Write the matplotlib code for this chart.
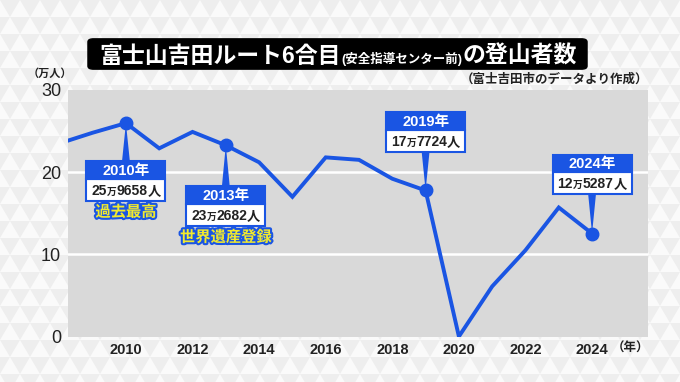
import matplotlib
matplotlib.use('Agg')
import matplotlib.pyplot as plt
from matplotlib.patches import Rectangle, Polygon, FancyBboxPatch
from matplotlib.collections import PolyCollection
import matplotlib.patheffects as pe

plt.rcParams['font.family'] = ['Liberation Sans', 'Noto Sans CJK JP', 'DejaVu Sans']

# ---- data (万人) ----
years = list(range(2008, 2025))
climbers = [23.5, 24.8, 25.97, 22.9, 24.9, 23.27, 21.2, 17.0, 21.8, 21.5,
            19.2, 17.77, 0.0, 6.1, 10.5, 15.7, 12.53]

callout_years = [2010, 2013, 2019, 2024]
callout_heads = ['2010年', '2013年', '2019年', '2024年']
callout_man = ['25', '23', '17', '12']
callout_rest = ['9658', '2682', '7724', '5287']
callout_notes = ['過去最高', '世界遺産登録', '', '']

yticks = [0, 10, 20, 30]
xticks = [2010, 2012, 2014, 2016, 2018, 2020, 2022, 2024]

title_big1 = '富士山吉田ルート6合目'
title_small = '(安全指導センター前)'
title_big2 = 'の登山者数'
source_text = '（富士吉田市のデータより作成）'
yunit = '（万人）'
xunit = '（年）'

# ---- layout ----
BLUE = '#1a55e3'
W, H = 680, 382
fig = plt.figure(figsize=(W / 100, H / 100), dpi=100)
fig.patch.set_facecolor('#eeeeee')


def fx(x):
    return x / W


def fy(y):
    return 1 - y / H


# triangle background pattern
tw, th = 20, 17
polys = []
row = 0
yy = -th
while yy < H + th:
    off = (row % 2) * tw / 2
    xx = -tw + off
    while xx < W + tw:
        polys.append([(fx(xx), fy(yy + th)), (fx(xx + tw), fy(yy + th)),
                      (fx(xx + tw / 2), fy(yy))])
        xx += tw
    yy += th
    row += 1
pc = PolyCollection(polys, facecolors='#fafafa', edgecolors='none',
                    transform=fig.transFigure, zorder=-5)
fig.add_artist(pc)

top_px, bot_px, left_px, right_px = 90, 336.5, 68, 648
ax = fig.add_axes([fx(left_px), fy(bot_px), (right_px - left_px) / W,
                   (bot_px - top_px) / H])
ax.set_facecolor('#d9d9d9')
ax.set_xlim(2008.26, 2025.68)
ax.set_ylim(0, 30)
for s in ax.spines.values():
    s.set_visible(False)
ax.set_yticks(yticks)
ax.set_yticklabels([str(v) for v in yticks], fontsize=13, color='#222222')
ax.set_xticks(xticks)
ax.set_xticklabels([str(v) for v in xticks], fontsize=10.5,
                   fontweight='bold', color='#222222')
ax.tick_params(axis='both', length=0)
ax.tick_params(axis='y', pad=5)
ax.tick_params(axis='x', pad=5)
for v in [10, 20]:
    ax.axhline(v, color='white', lw=1.8, zorder=1)

ax.plot(years, climbers, color=BLUE, lw=2.8, zorder=3,
        solid_joinstyle='miter', clip_on=True)

renderer = fig.canvas.get_renderer()


def pieces(items, x, base_y, color, ha='center', zorder=9, effects=None):
    texts, widths = [], []
    for s, size, weight in items:
        t = ax.text(0, 0, s, fontsize=size, fontweight=weight, color=color,
                    transform=fig.transFigure, va='baseline', ha='left',
                    zorder=zorder, clip_on=False)
        if effects:
            t.set_path_effects(effects)
        widths.append(t.get_window_extent(renderer).width)
        texts.append(t)
    total = sum(widths)
    if ha == 'center':
        x0 = x - total / 2
    elif ha == 'right':
        x0 = x - total
    else:
        x0 = x
    for t, w in zip(texts, widths):
        t.set_position((fx(x0), fy(base_y)))
        x0 += w


# callouts
val_of = dict(zip(years, climbers))
box_dy = [38, 41, -78, -79]
bw, hh, bh = 79, 17.5, 22
for yr, head, man, rest, note, dy in zip(callout_years, callout_heads,
                                         callout_man, callout_rest,
                                         callout_notes, box_dy):
    v = val_of[yr]
    dx_, dy_ = ax.transData.transform((yr, v))
    px, py = dx_, H - dy_
    top = py + dy
    cx = px
    if dy > 0:
        tri = [(px, py), (cx - 4, top + 1), (cx + 4, top + 1)]
    else:
        b = top + hh + bh
        tri = [(px, py), (cx - 4, b - 1), (cx + 4, b - 1)]
    ax.add_patch(Polygon([(fx(a), fy(b_)) for a, b_ in tri], closed=True,
                         facecolor=BLUE, edgecolor='none',
                         transform=fig.transFigure, zorder=5, clip_on=False))
    ax.add_patch(Rectangle((fx(cx - bw / 2), fy(top + hh + bh)), bw / W,
                           bh / H, facecolor='white', edgecolor=BLUE, lw=1.5,
                           transform=fig.transFigure, zorder=6,
                           clip_on=False))
    ax.add_patch(Rectangle((fx(cx - bw / 2), fy(top + hh)), bw / W, hh / H,
                           facecolor=BLUE, edgecolor=BLUE, lw=1.5,
                           transform=fig.transFigure, zorder=6,
                           clip_on=False))
    pieces([(head, 10.5, 'bold')], cx, top + hh / 2 + 5, 'white')
    pieces([(man, 10, 'bold'), ('万', 7, 'bold'), (rest, 10, 'bold'),
            ('人', 9.5, 'bold')], cx, top + hh + bh / 2 + 5, '#222222')
    if note:
        pieces([(note, 11, 'bold')], cx, top + hh + bh + 16, '#f2ea2e',
               effects=[pe.withStroke(linewidth=3, foreground=BLUE)])

ax.plot(callout_years, [val_of[y] for y in callout_years], 'o', ms=9,
        color=BLUE, zorder=8, clip_on=False)

# title
ax.add_patch(FancyBboxPatch((fx(90), fy(68)), (585 - 90) / W, 28 / H,
                            boxstyle='round,pad=0.003,rounding_size=0.008',
                            facecolor='black', edgecolor='black',
                            transform=fig.transFigure, zorder=9,
                            clip_on=False))
pieces([(title_big1, 16.5, 'bold'), (title_small, 9, 'bold'),
        (title_big2, 16.5, 'bold')], 338, 63, 'white', zorder=10)

pieces([(source_text, 9, 'bold')], 648, 83, '#222222', ha='right')
pieces([(yunit, 8, 'bold')], 50, 77, '#222222')
pieces([(xunit, 9, 'bold')], 630, 352, '#222222')

fig.savefig('out.png', dpi=100, facecolor=fig.get_facecolor())
